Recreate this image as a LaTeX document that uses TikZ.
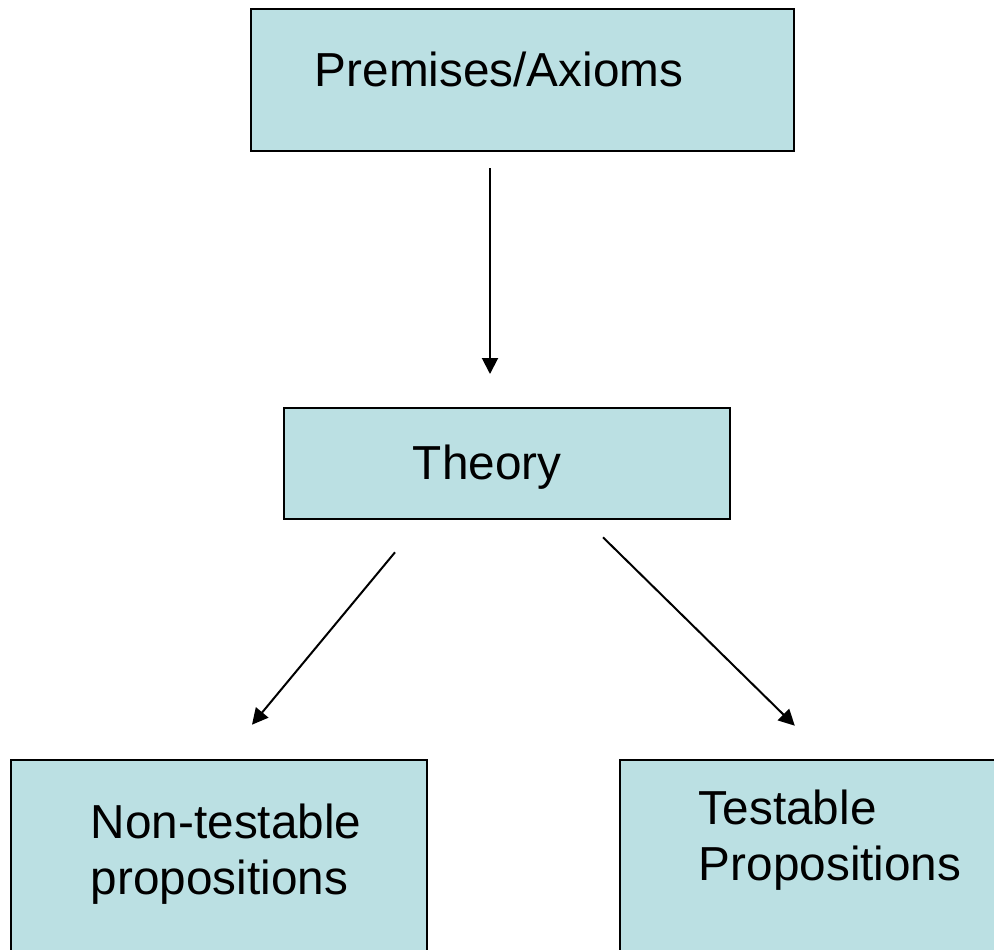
\documentclass[tikz,border=0pt]{standalone}
\usepackage{fontspec}
\setmainfont{Liberation Sans}
\usetikzlibrary{arrows.meta}
\definecolor{boxfill}{RGB}{187,224,227}
\tikzset{
  box/.style={draw=black,line width=2.2pt,fill=boxfill,rectangle,inner sep=0pt},
  lbl/.style={inner sep=0pt,font=\fontsize{47.7}{56}\selectfont,align=left},
  link/.style={-{Triangle[length=16pt,width=16pt]},line width=2pt}
}
\begin{document}
\begin{tikzpicture}[x=1pt,y=-1pt]
  \useasboundingbox (0,0) rectangle (994,950);
  % boxes
  \node (premises) at (522.5,80) [box,minimum width=543.4pt,minimum height=142.4pt] {};
  \node (theory) at (507,463.5) [box,minimum width=446.4pt,minimum height=111.4pt] {};
  \node (nontest) at (219,879.8) [box,minimum width=416.4pt,minimum height=240pt] {};
  \node (testable) at (819.8,879.8) [box,minimum width=400pt,minimum height=240pt] {};
  % texts
  \node (premisestxt) at ([shift={(65,79)}]premises.north west) [lbl,anchor=base west] {Premises/Axioms};
  \node (theorytxt) at ([shift={(130,73)}]theory.north west) [lbl,anchor=base west] {Theory};
  \node (nontesttxt) at ([shift={(81,45)}]nontest.north west) [lbl,anchor=north west] {Non-testable\\propositions};
  \node (testabletxt) at ([shift={(80,31)}]testable.north west) [lbl,anchor=north west] {Testable\\Propositions};
  % arrows
  \draw [link,shorten <=16pt,shorten >=32.7pt] ([xshift=-32.5pt]premises.south) -- ([xshift=-17pt]theory.north);
  \draw [link] ([shift={(-112,32)}]theory.south) -- ([shift={(33,-34)}]nontest.north);
  \draw [link] ([shift={(96,17)}]theory.south) -- ([shift={(-25,-33)}]testable.north);
\end{tikzpicture}
\end{document}
